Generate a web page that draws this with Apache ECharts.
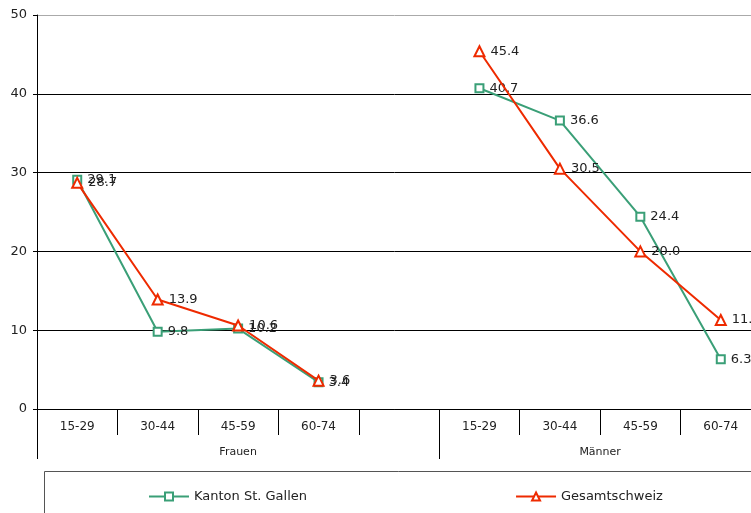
<!DOCTYPE html>
<html>
<head>
<meta charset="utf-8">
<script src="https://cdn.jsdelivr.net/npm/echarts@6/dist/echarts.min.js"></script>
<style>
html,body{margin:0;padding:0;background:#fff;}
#chart{width:751px;height:513px;}
</style>
</head>
<body>
<div id="chart"></div>
<script>
var ageCategories = ['15-29','30-44','45-59','60-74','','15-29','30-44','45-59','60-74'];
var groupLabels = ['Frauen','Männer'];
var groupLabelPos = [2.5, 7];
var groupTickPos = [0, 5, 9];
var kantonName = 'Kanton St. Gallen';
var schweizName = 'Gesamtschweiz';
var kantonValues = [29.1, 9.8, 10.2, 3.4, null, 40.7, 36.6, 24.4, 6.3];
var schweizValues = [28.7, 13.9, 10.6, 3.6, null, 45.4, 30.5, 20.0, 11.3];
var yTicks = [0, 10, 20, 30, 40, 50];

var FONT = 'DejaVu Sans';
var chart = echarts.init(document.getElementById('chart'));
var labelStyle = {
  show: true, position: 'right', distance: 5,
  color: '#222', fontFamily: FONT, fontSize: 13,
  formatter: function (p) { return p.value == null ? '' : Number(p.value).toFixed(1); }
};
chart.setOption({
  backgroundColor: '#fff',
  animation: false,
  textStyle: { fontFamily: FONT },
  grid: { left: 37, top: 15, width: 724, height: 394, containLabel: false, outerBoundsMode: 'none' },
  legend: {
    left: 143, top: 485, itemWidth: 40, itemHeight: 10, itemGap: 208,
    textStyle: { fontFamily: FONT, fontSize: 13, color: '#222' },
    data: [kantonName, schweizName]
  },
  graphic: [{
    type: 'rect', silent: true,
    shape: { x: 44.5, y: 471.5, width: 800, height: 100 },
    style: { fill: 'none', stroke: '#555', lineWidth: 1 }
  }],
  xAxis: [{
    type: 'category', data: ageCategories, boundaryGap: true, position: 'bottom',
    axisLine: { show: true, lineStyle: { color: '#000', width: 1 } },
    axisTick: { show: true, interval: 0, length: 26, lineStyle: { color: '#000' } },
    axisLabel: { interval: 0, margin: 12, color: '#222', fontFamily: FONT, fontSize: 12 },
    splitLine: { show: false }
  }, {
    type: 'value', min: 0, max: 9, position: 'bottom', offset: 0,
    axisLine: { show: false },
    axisTick: { show: true, customValues: groupTickPos, length: 50, lineStyle: { color: '#000' } },
    axisLabel: {
      customValues: groupLabelPos, margin: 38, color: '#222', fontFamily: FONT, fontSize: 11,
      formatter: function (v) { var i = groupLabelPos.indexOf(v); return i >= 0 ? groupLabels[i] : ''; }
    },
    splitLine: { show: false }
  }],
  yAxis: {
    type: 'value', min: yTicks[0], max: yTicks[yTicks.length - 1], interval: 10,
    axisLine: { show: true, lineStyle: { color: '#000', width: 1 } },
    axisTick: { show: true, length: 4, lineStyle: { color: '#000' } },
    axisLabel: { margin: 10, color: '#222', fontFamily: FONT, fontSize: 13 },
    splitLine: { show: true, lineStyle: { color: ['#000', '#000', '#000', '#000', '#000', '#aaa'], width: 1 } }
  },
  series: [{
    name: kantonName, type: 'line', xAxisIndex: 0, data: kantonValues,
    connectNulls: false, symbol: 'emptyRect', symbolSize: 8,
    color: '#3a9f77',
    lineStyle: { color: '#3a9f77', width: 2 },
    itemStyle: { color: '#3a9f77', borderWidth: 1.5 },
    label: labelStyle, z: 2
  }, {
    name: schweizName, type: 'line', xAxisIndex: 0, data: schweizValues,
    connectNulls: false, symbol: 'emptyTriangle', symbolSize: 10,
    color: '#ee2a00',
    lineStyle: { color: '#ee2a00', width: 2 },
    itemStyle: { color: '#ee2a00', borderWidth: 2 },
    label: labelStyle, z: 3
  }]
});
</script>
</body>
</html>
